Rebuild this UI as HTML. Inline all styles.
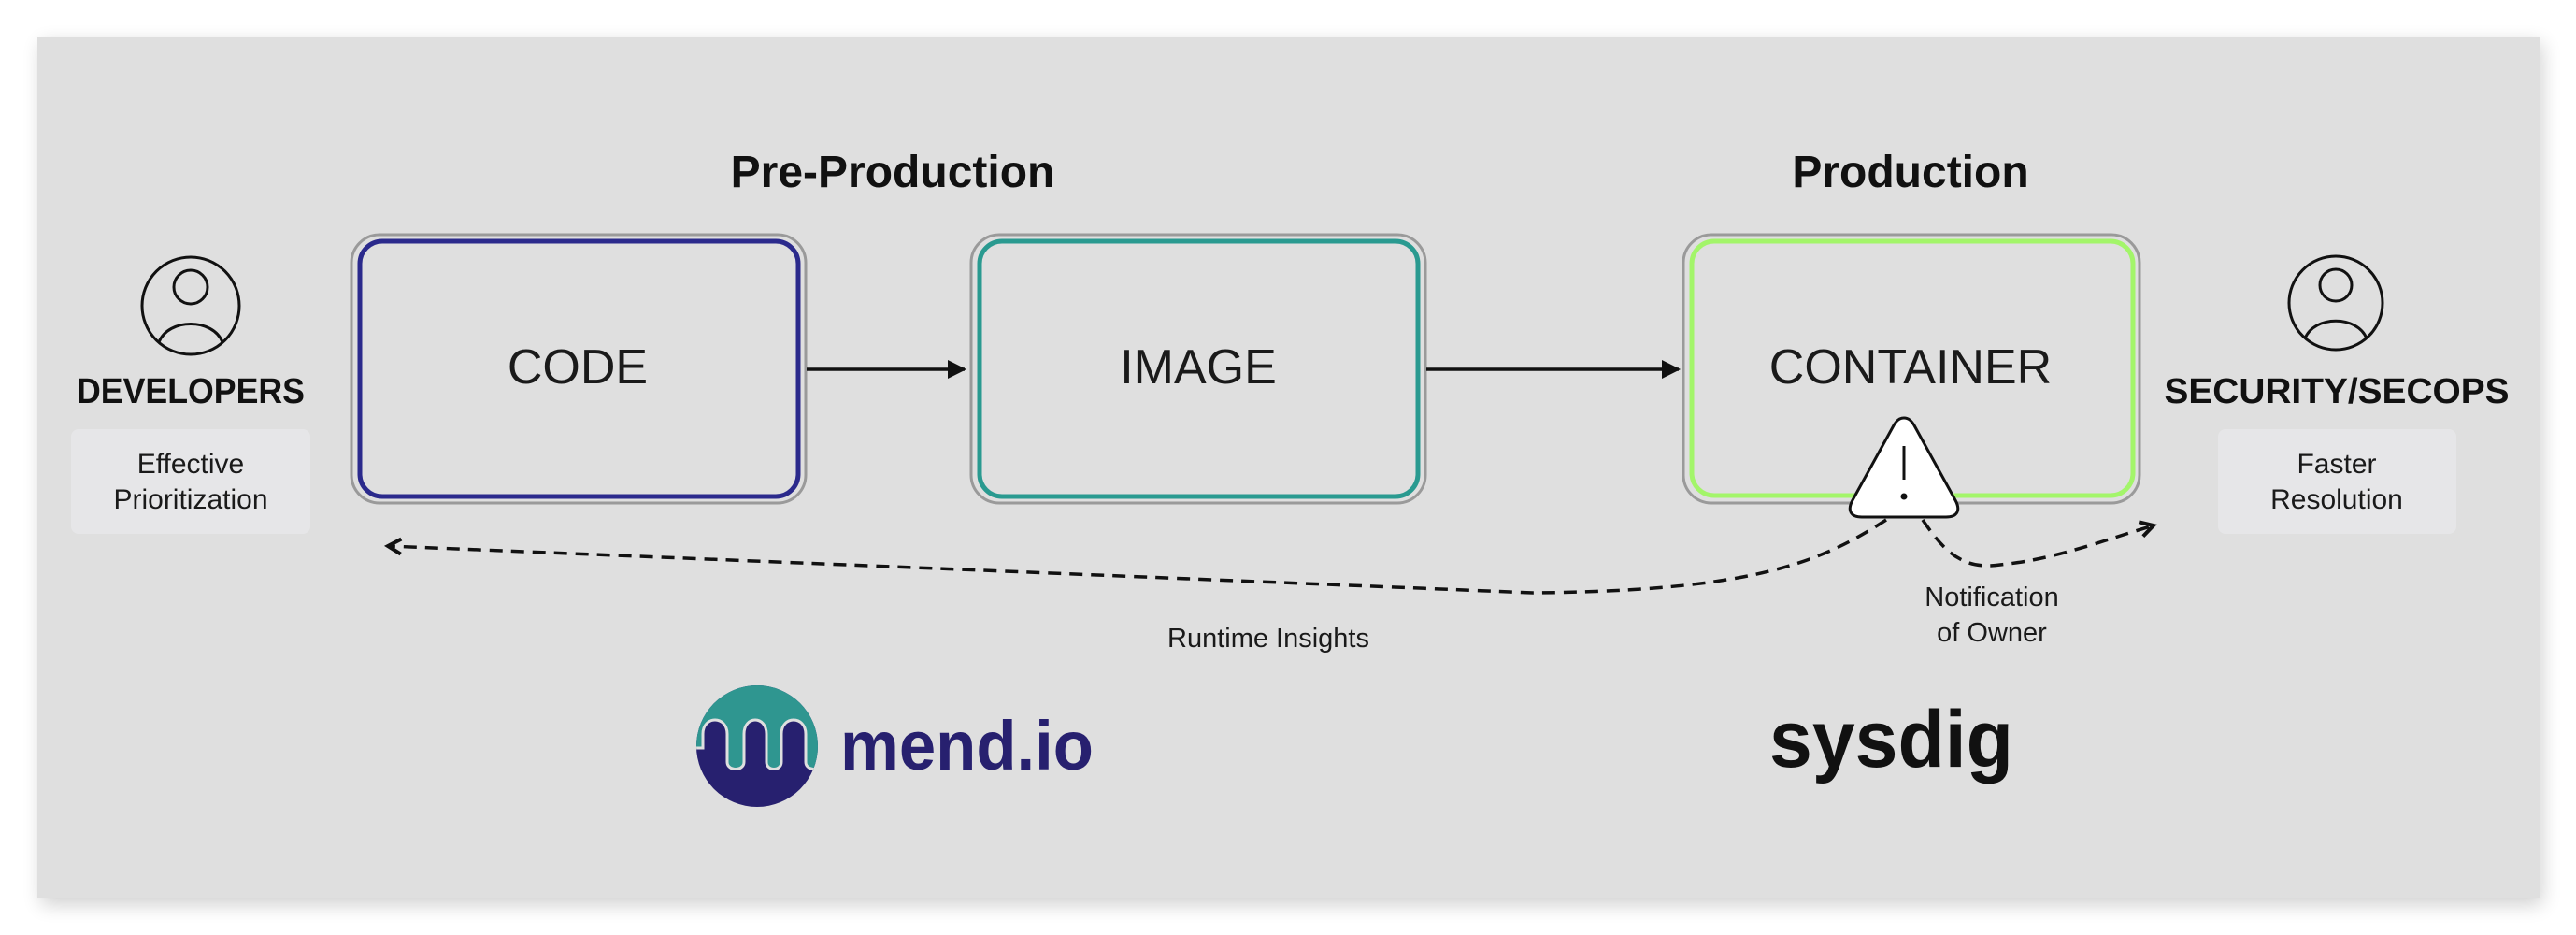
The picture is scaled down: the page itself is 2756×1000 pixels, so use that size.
<!DOCTYPE html>
<html><head><meta charset="utf-8"><style>
html,body{margin:0;padding:0;background:#fff;}
svg{display:block;}
text{font-family:"Liberation Sans",sans-serif;}
</style></head><body>
<svg width="2756" height="1000" viewBox="0 0 2756 1000" xmlns="http://www.w3.org/2000/svg">
<defs>
<filter id="sh" x="-5%" y="-10%" width="110%" height="120%"><feGaussianBlur stdDeviation="10"/></filter>
<marker id="ah" markerWidth="22" markerHeight="22" refX="18" refY="11" orient="auto" markerUnits="userSpaceOnUse"><path d="M0,1 L20,11 L0,21 Z" fill="#111"/></marker>
<marker id="ao" markerWidth="22" markerHeight="22" refX="18" refY="11" orient="auto" markerUnits="userSpaceOnUse"><path d="M4,3 L18,11 L4,19" fill="none" stroke="#111" stroke-width="4"/></marker>
</defs>
<rect x="44" y="46" width="2676" height="922" fill="#000" opacity="0.18" filter="url(#sh)"/>
<rect x="40" y="40" width="2678" height="920" fill="#dfdfdf"/>

<text x="955" y="200" font-size="48" font-weight="bold" text-anchor="middle" fill="#111">Pre-Production</text>
<text x="2044" y="200" font-size="48" font-weight="bold" text-anchor="middle" fill="#111">Production</text>

<!-- CODE -->
<rect x="376" y="251" width="486" height="287" rx="30" fill="none" stroke="#9a9a9a" stroke-width="3"/>
<rect x="385" y="258" width="469" height="273" rx="24" fill="none" stroke="#2b2a8c" stroke-width="5"/>
<text x="618" y="410" font-size="52" text-anchor="middle" fill="#1a1a1a">CODE</text>
<!-- IMAGE -->
<rect x="1039" y="251" width="486" height="287" rx="30" fill="none" stroke="#9a9a9a" stroke-width="3"/>
<rect x="1048" y="258" width="469" height="273" rx="24" fill="none" stroke="#2a9a90" stroke-width="5"/>
<text x="1282" y="410" font-size="52" text-anchor="middle" fill="#1a1a1a">IMAGE</text>
<!-- CONTAINER -->
<rect x="1801" y="251" width="488" height="287" rx="30" fill="none" stroke="#9a9a9a" stroke-width="3"/>
<rect x="1810" y="258" width="472" height="272" rx="24" fill="none" stroke="#a3f56a" stroke-width="5"/>
<text x="2044" y="410" font-size="52" text-anchor="middle" fill="#1a1a1a">CONTAINER</text>

<line x1="863" y1="395" x2="1032" y2="395" stroke="#111" stroke-width="3.5" marker-end="url(#ah)"/>
<line x1="1526" y1="395" x2="1796" y2="395" stroke="#111" stroke-width="3.5" marker-end="url(#ah)"/>

<!-- dashed -->
<path d="M2018,556 C1950,600 1880,632 1640,634 L415,584" fill="none" stroke="#111" stroke-width="3.5" stroke-dasharray="14,9" marker-end="url(#ao)"/>
<path d="M2057,556 C2080,590 2100,610 2140,604 C2200,598 2250,578 2304,562" fill="none" stroke="#111" stroke-width="3.5" stroke-dasharray="14,9" marker-end="url(#ao)"/>

<!-- warning -->
<path d="M2037,447 C2032,447 2029,450 2026,455 L1982,535 C1976,546 1980,553 1992,553 L2082,553 C2094,553 2098,546 2092,535 L2048,455 C2045,450 2042,447 2037,447 Z" fill="#fff" stroke="#111" stroke-width="3"/>
<line x1="2037" y1="477" x2="2037" y2="513" stroke="#111" stroke-width="3"/>
<circle cx="2037" cy="531" r="3.5" fill="#111"/>

<!-- persons -->
<g fill="none" stroke="#111" stroke-width="3">
<circle cx="204" cy="327" r="52"/><circle cx="204" cy="307" r="18"/><path d="M170,366 C180,340 228,340 238,366"/>
<circle cx="2499" cy="324" r="50"/><circle cx="2499" cy="305" r="17"/><path d="M2466,362 C2476,337 2522,337 2532,362"/>
</g>
<text x="204" y="431" font-size="38" font-weight="bold" text-anchor="middle" fill="#111" textLength="244" lengthAdjust="spacingAndGlyphs">DEVELOPERS</text>
<text x="2500" y="431" font-size="38" font-weight="bold" text-anchor="middle" fill="#111" textLength="369" lengthAdjust="spacingAndGlyphs">SECURITY/SECOPS</text>

<rect x="76" y="459" width="256" height="112" rx="8" fill="#e6e6e8"/>
<text x="204" y="506" font-size="30" text-anchor="middle" fill="#1a1a1a">Effective</text>
<text x="204" y="544" font-size="30" text-anchor="middle" fill="#1a1a1a">Prioritization</text>
<rect x="2373" y="459" width="255" height="112" rx="8" fill="#e6e6e8"/>
<text x="2500" y="506" font-size="30" text-anchor="middle" fill="#1a1a1a">Faster</text>
<text x="2500" y="544" font-size="30" text-anchor="middle" fill="#1a1a1a">Resolution</text>

<text x="1357" y="692" font-size="29" text-anchor="middle" fill="#1a1a1a">Runtime Insights</text>
<text x="2131" y="648" font-size="29" text-anchor="middle" fill="#1a1a1a">Notification</text>
<text x="2131" y="686" font-size="29" text-anchor="middle" fill="#1a1a1a">of Owner</text>

<!-- mend logo -->
<clipPath id="mc"><circle cx="810" cy="798" r="65"/></clipPath>
<g clip-path="url(#mc)">
<rect x="740" y="730" width="140" height="140" fill="#27206f"/>
<path d="M740,730 L880,730 L880,815 C880,825 862,825 862,815 L862,785 C862,765 836,765 836,785 L836,815 C836,825 820,825 820,815 L820,785 C820,765 796,765 796,785 L796,815 C796,825 778,825 778,815 L778,785 C778,765 752,765 752,785 L752,800 L740,800 Z" fill="#2f9690" stroke="#dfdfdf" stroke-width="3"/>
</g>
<text x="899" y="823" font-size="74" font-weight="bold" fill="#27206f" textLength="271" lengthAdjust="spacingAndGlyphs">mend.io</text>

<text x="1893" y="820" font-size="86" font-weight="bold" fill="#111" textLength="261" lengthAdjust="spacingAndGlyphs">sysdig</text>
</svg>
</body></html>
